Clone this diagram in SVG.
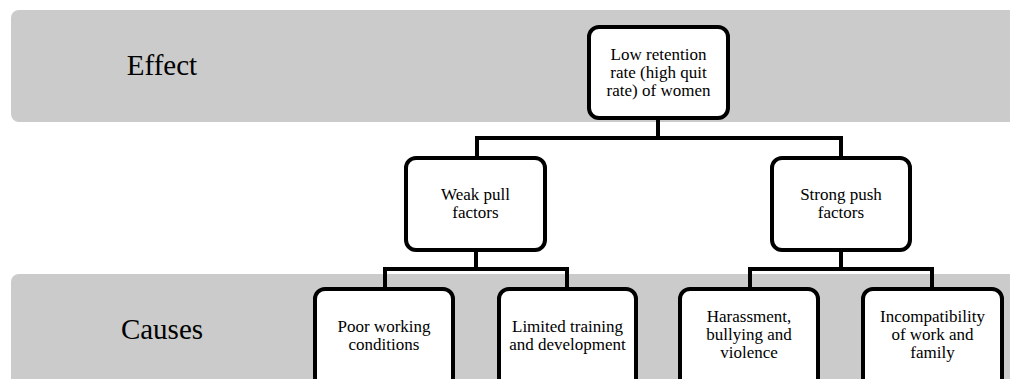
<svg xmlns="http://www.w3.org/2000/svg" width="1010" height="379" viewBox="0 0 1010 379">
<style>
.band{fill:#cbcbcb}
.box{fill:#fff;stroke:#000;stroke-width:4}
.lbl{font-family:"Liberation Serif",serif;font-size:29px;fill:#000;text-anchor:middle}
.t{font-family:"Liberation Serif",serif;font-size:17px;fill:#000;text-anchor:middle}
.c{fill:none;stroke:#000;stroke-width:4;stroke-linejoin:miter}
</style>
<rect width="1010" height="379" fill="#fff"/>
<g id="band-effect"><rect class="band" x="11" y="10" width="1020" height="112" rx="8"/><text class="lbl" x="162" y="75">Effect</text></g>
<g id="band-causes"><rect class="band" x="11" y="274" width="1020" height="130" rx="8"/><text class="lbl" x="162" y="339">Causes</text></g>
<g id="connectors">
<path class="c" d="M658 120V138M477 138H841M477 136V156M841 136V156"/>
<path class="c" d="M476 252V269M385 269H567M385 267V287M567 267V287"/>
<path class="c" d="M841 252V269M750 269H932M750 267V287M932 267V287"/>
</g>
<g id="n-low"><rect class="box" x="589" y="27" width="139" height="91" rx="10"/><text class="t" x="658.5" y="60">Low retention</text><text class="t" x="658.5" y="78">rate (high quit</text><text class="t" x="658.5" y="96">rate) of women</text></g>
<g id="n-weak"><rect class="box" x="406" y="158" width="139" height="92" rx="10"/><text class="t" x="475.5" y="200">Weak pull</text><text class="t" x="475.5" y="218">factors</text></g>
<g id="n-strong"><rect class="box" x="772" y="158" width="138" height="92" rx="10"/><text class="t" x="841" y="200">Strong push</text><text class="t" x="841" y="218">factors</text></g>
<g id="n-poor"><rect class="box" x="315" y="289" width="138" height="110" rx="10"/><text class="t" x="384" y="332">Poor working</text><text class="t" x="384" y="350">conditions</text></g>
<g id="n-limited"><rect class="box" x="499" y="289" width="137" height="110" rx="10"/><text class="t" x="567.5" y="332">Limited training</text><text class="t" x="567.5" y="350">and development</text></g>
<g id="n-harass"><rect class="box" x="680" y="289" width="138" height="110" rx="10"/><text class="t" x="749" y="322">Harassment,</text><text class="t" x="749" y="340">bullying and</text><text class="t" x="749" y="358">violence</text></g>
<g id="n-incompat"><rect class="box" x="863" y="289" width="139" height="110" rx="10"/><text class="t" x="932.5" y="322">Incompatibility</text><text class="t" x="932.5" y="340">of work and</text><text class="t" x="932.5" y="358">family</text></g>
</svg>
